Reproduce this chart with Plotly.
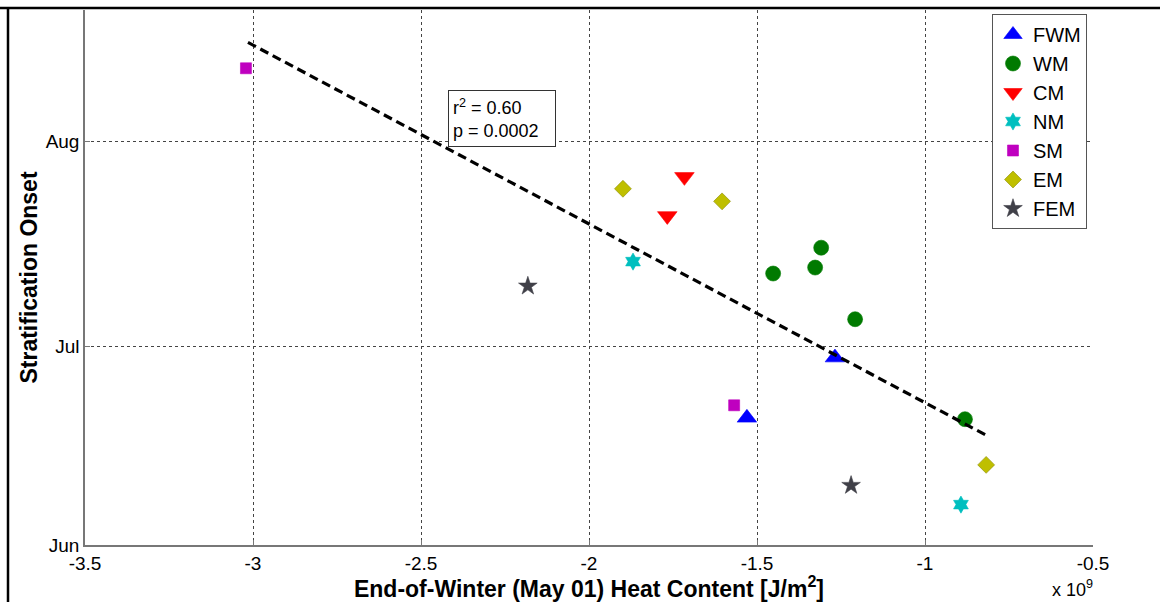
import pandas as pd
import plotly.graph_objects as go

# End-of-winter heat content (units of 1e9 J/m^2) and stratification onset
# (days after 1 June) for each basin group.
groups = ["FWM", "WM", "CM", "NM", "SM", "EM", "FEM"]

heat_fwm = [-1.530, -1.268]
onset_fwm = [19.2, 28.3]

heat_wm = [-1.452, -1.327, -1.309, -1.208, -0.881]
onset_wm = [41.0, 41.9, 44.9, 34.1, 19.0]

heat_cm = [-1.716, -1.767]
onset_cm = [55.6, 49.7]

heat_nm = [-1.869, -0.893]
onset_nm = [42.8, 6.1]

heat_sm = [-3.021, -1.568]
onset_sm = [72.0, 21.1]

heat_em = [-1.899, -1.604, -0.818]
onset_em = [53.8, 51.9, 12.1]

heat_fem = [-2.182, -1.220]
onset_fem = [39.1, 9.0]

# Least-squares fit line end points
fit_heat = [-3.015, -0.815]
fit_onset = [75.9, 16.5]

r2_text = "0.60"
p_text = "0.0002"

x_ticks = [-3.5, -3, -2.5, -2, -1.5, -1, -0.5]
month_ticks = ["2000-06-01", "2000-07-01", "2000-08-01"]

base = pd.Timestamp("2000-06-01")


def to_date(days):
    return [base + pd.Timedelta(days=d) for d in days]


styles = {
    "FWM": dict(symbol="triangle-up", color="#0000ff", size=17),
    "WM": dict(symbol="circle", color="#007a00", size=15),
    "CM": dict(symbol="triangle-down", color="#ff0000", size=17),
    "NM": dict(symbol="hexagram", color="#00bfbf", size=13),
    "SM": dict(symbol="square", color="#bf00bf", size=11),
    "EM": dict(symbol="diamond", color="#bfbf00", size=13),
    "FEM": dict(symbol="star", color="#404048", size=14),
}

series = {
    "FWM": (heat_fwm, onset_fwm),
    "WM": (heat_wm, onset_wm),
    "CM": (heat_cm, onset_cm),
    "NM": (heat_nm, onset_nm),
    "SM": (heat_sm, onset_sm),
    "EM": (heat_em, onset_em),
    "FEM": (heat_fem, onset_fem),
}

fig = go.Figure()

for g in groups:
    xs, ys = series[g]
    st = styles[g]
    edge = "#8a8a00" if g == "EM" else st["color"]
    fig.add_trace(go.Scatter(
        x=xs, y=to_date(ys), mode="markers", name=g,
        marker=dict(symbol=st["symbol"], color=st["color"], size=st["size"],
                    line=dict(color=edge, width=0.6)),
    ))

fig.add_trace(go.Scatter(
    x=fit_heat, y=to_date(fit_onset), mode="lines", showlegend=False,
    line=dict(color="black", width=3.2, dash="9px,5px"),
))

font_family = "Liberation Sans, Arial, sans-serif"

fig.update_layout(
    width=1160, height=602,
    margin=dict(l=85, r=67, t=10, b=57),
    paper_bgcolor="white", plot_bgcolor="white",
    font=dict(family=font_family, size=19, color="black"),
    showlegend=True,
    legend=dict(
        x=0.8998, y=0.9925, xanchor="left", yanchor="top",
        bgcolor="white", bordercolor="#555555", borderwidth=1,
        font=dict(size=20, family=font_family),
        tracegroupgap=0, itemwidth=30,
    ),
    xaxis=dict(
        range=[-3.5, -0.5], tickvals=x_ticks,
        ticktext=[f"{v:g}" for v in x_ticks],
        tickfont=dict(size=19),
        showgrid=True, gridcolor="#444444", griddash="dot", gridwidth=1,
        showline=True, linecolor="#777777", linewidth=1.5,
        ticks="inside", ticklen=5, tickcolor="#777777",
        zeroline=False, mirror=False, automargin=False,
        title=dict(text="<b>End-of-Winter (May 01) Heat Content [J/m<sup>2</sup>]</b>",
                   font=dict(size=23), standoff=9),
    ),
    yaxis=dict(
        type="date",
        range=[base, base + pd.Timedelta(days=80.8)],
        tickvals=month_ticks, tickformat="%b",
        tickfont=dict(size=19),
        showgrid=True, gridcolor="#444444", griddash="dot", gridwidth=1,
        showline=True, linecolor="#777777", linewidth=1.5,
        ticks="inside", ticklen=5, tickcolor="#777777",
        zeroline=False, automargin=False,
        title=dict(text="<b>Stratification Onset</b>", font=dict(size=23), standoff=2),
    ),
)

# r^2 / p-value box
fig.add_annotation(
    xref="paper", yref="paper", x=(448 - 85) / 1008, y=(545 - 90) / 535,
    xanchor="left", yanchor="top", align="left",
    text=f"r<sup>2</sup> = {r2_text}<br>p = {p_text}",
    width=98, height=47,
    showarrow=False, bgcolor="white", bordercolor="#333333", borderwidth=1,
    borderpad=4, font=dict(size=18),
)

# axis exponent label
fig.add_annotation(
    xref="paper", yref="paper", x=(1050 - 85) / 1008, y=(545 - 588) / 535,
    xanchor="left", yanchor="middle", showarrow=False,
    text="x 10<sup>9</sup>", font=dict(size=18),
)

# frame lines along the top and left edges of the figure
fig.add_shape(type="line", xref="paper", yref="paper",
              x0=-85 / 1008, x1=1.1, y0=(545 - 8) / 535, y1=(545 - 8) / 535,
              line=dict(color="black", width=2.5))
fig.add_shape(type="line", xref="paper", yref="paper",
              x0=-77 / 1008, x1=-77 / 1008, y0=-0.2, y1=(545 - 8) / 535,
              line=dict(color="black", width=2.5))

fig.write_html("out.html")
